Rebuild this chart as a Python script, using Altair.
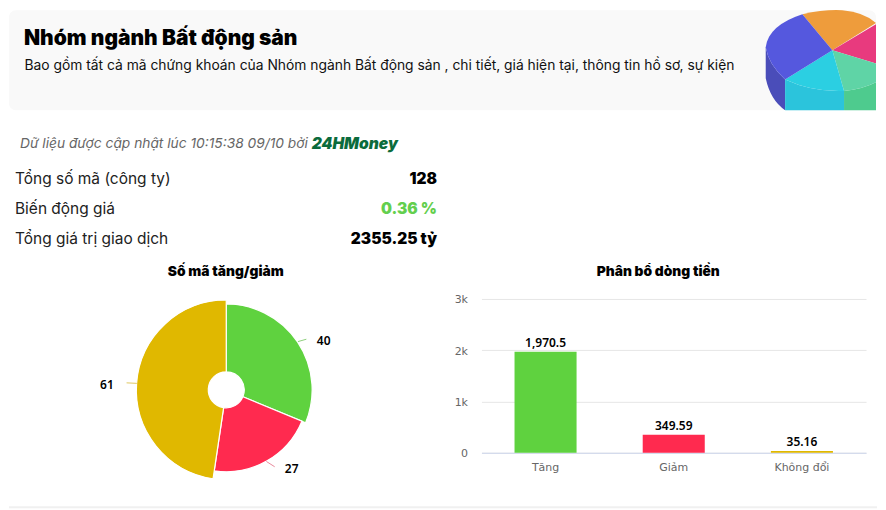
import altair as alt
import pandas as pd

page_title = "Nhóm ngành Bất động sản"
page_sub = "Bao gồm tất cả mã chứng khoán của Nhóm ngành Bất động sản , chi tiết, giá hiện tại, thông tin hồ sơ, sự kiện"
updated = "Dữ liệu được cập nhật lúc 10:15:38 09/10 bởi"
brand = "24HMoney"
stat_names = ["Tổng số mã (công ty)", "Biến động giá", "Tổng giá trị giao dịch"]
stat_values = ["128", "0.36 %", "2355.25 tỷ"]

categories = ["Tăng", "Giảm", "Không đổi"]
count_values = [40, 27, 61]
flow_values = [1970.5, 349.59, 35.16]
flow_labels = ["1,970.5", "349.59", "35.16"]
colors = ["#5fd23f", "#ff2a4f", "#e0b800"]

FONT = "Inter"
CH = "DejaVu Sans"
LBL = "Noto Sans"


def txt(s, x, y, size=13, weight=400, color="#000", align="left", style="normal", font=FONT):
    return alt.Chart(pd.DataFrame({"t": [s]})).mark_text(
        align=align, baseline="middle", fontSize=size, fontWeight=weight,
        color=color, font=font, fontStyle=style
    ).encode(text="t:N", x=alt.value(x), y=alt.value(y))


def seg(x1, y1, x2, y2, color, w=1):
    return alt.Chart(pd.DataFrame({"a": [0]})).mark_rule(color=color, strokeWidth=w).encode(
        x=alt.value(x1), x2=alt.value(x2), y=alt.value(y1), y2=alt.value(y2))


def icon(path, color):
    # custom symbol path in pixels, centred on the small pie's hub
    return alt.Chart(pd.DataFrame({"a": [0]})).mark_point(
        shape=path, size=4, filled=True, fill=color, opacity=1, strokeWidth=0
    ).encode(x=alt.value(833.3 - 8), y=alt.value(50 - 8))


panel = alt.Chart(pd.DataFrame({"a": [0]})).mark_rect(
    fill="#f9f9f9", cornerRadius=7
).encode(x=alt.value(1), x2=alt.value(869), y=alt.value(2), y2=alt.value(102))

icons = [
    icon("M-66.7,-3 L-66.7,28 Q-62,50 -47.3,60 L-47.3,29.3 Q-64,14 -66.7,-3 Z", "#4a4db9"),
    icon("M-47.3,29.3 Q-20,42 11.7,40.7 L11.7,60 L-47.3,60 Z", "#2bc4dc"),
    icon("M11.7,40.7 Q30,39 43.7,32 L43.7,60 L11.7,60 Z", "#4ecb8e"),
    icon("M0,0 L-30,-36 Q-8,-41 10,-40 Q32,-38 43.7,-27.3 Z", "#ee9c3c"),
    icon("M0,0 L43.7,-26 L43.7,13.3 Z", "#e83a7e"),
    icon("M0,0 L43.7,13.3 L43.7,32 Q30,39 11.7,40.7 Z", "#5fd4a6"),
    icon("M0,0 L11.7,40.7 Q-20,42 -47.3,29.3 Z", "#2bcfe2"),
    icon("M0,0 L-47.3,29.3 Q-64,14 -66.7,-3 Q-64,-25 -30,-36 Z", "#5558de"),
]

header = alt.layer(
    panel, *icons,
    txt(page_title, 16, 31, 21, 900),
    txt(page_sub, 16.5, 57.5, 13.85, 400, "#111"),
    txt(updated, 12, 136, 13.8, 400, "#666", style="italic"),
    txt(brand, 304, 135.5, 15.6, 900, "#0b6b3c", style="italic"),
    txt(stat_names[0], 7, 170.5, 15.5, 400, "#222"),
    txt(stat_names[1], 7, 200.5, 15.5, 400, "#222"),
    txt(stat_names[2], 7, 230.5, 15.5, 400, "#222"),
    txt(stat_values[0], 429.5, 170.5, 15.5, 900, "#000", "right"),
    txt(stat_values[1], 429.5, 200.5, 15.5, 900, "#63cf4e", "right"),
    txt(stat_values[2], 429.5, 230.5, 15.5, 900, "#000", "right"),
).properties(width=870, height=252)

# bottom panels: local origin is the top of the bar plot (reference y 299)
ox, oy = 8, 299
df = pd.DataFrame({
    "category": categories, "count": count_values, "flow": flow_values,
    "label": flow_labels, "idx": [0, 1, 2],
})
color_scale = alt.Scale(domain=categories, range=colors)

arcs = alt.Chart(df).mark_arc(stroke="#ffffff", strokeWidth=1.2).encode(
    theta=alt.Theta("count:Q", stack=True),
    order=alt.Order("idx:Q"),
    radius=alt.Radius("count:Q", scale=alt.Scale(type="linear", zero=False, domain=[27, 40, 61], range=[82, 86, 90])),
    radius2=alt.value(18),
    color=alt.Color("category:N", scale=color_scale, legend=None),
    x=alt.value(226.5 - ox), y=alt.value(390 - oy),
)

pie = alt.layer(
    arcs,
    seg(298.3 - ox, 341.7 - oy, 306.7 - ox, 339.3 - oy, "#8fcf7d"),
    seg(266.7 - ox, 461.7 - oy, 275 - ox, 467 - oy, "#e88a9c"),
    seg(126.7 - ox, 383 - oy, 137 - ox, 383.5 - oy, "#e0c860"),
    txt(str(count_values[0]), 324 - ox, 341 - oy, 12, 600, "#000", "center", font=LBL),
    txt(str(count_values[1]), 292 - ox, 469 - oy, 12, 600, "#000", "center", font=LBL),
    txt(str(count_values[2]), 107 - ox, 385 - oy, 12, 600, "#000", "center", font=LBL),
    txt("Số mã tăng/giảm", 226 - ox, 272.5 - oy, 13.8, 900, "#000", "center"),
    seg(1, 507.5 - oy, 870, 507.5 - oy, "#f0f0f0", 2),
).properties(width=434, height=154)

x_enc = alt.X("category:N", sort=categories, title=None,
              scale=alt.Scale(paddingInner=0.516, paddingOuter=0.258),
              axis=alt.Axis(labelAngle=0, labelColor="#666666", labelFontSize=11, labelFont=CH,
                            domainColor="#ccd6eb", ticks=False, grid=False, labelPadding=9))
y_enc = alt.Y("flow:Q", title=None, scale=alt.Scale(domain=[0, 3000]),
              axis=alt.Axis(values=[0, 1000, 2000, 3000], domain=False, ticks=False,
                            gridColor="#e6e6e6", labelColor="#666666", labelFontSize=11, labelFont=CH,
                            labelPadding=14, labelOffset=1,
                            labelExpr="datum.value == 0 ? '0' : datum.value / 1000 + 'k'"))

bars = alt.Chart(df).mark_bar().encode(
    x=x_enc, y=y_enc, color=alt.Color("category:N", scale=color_scale, legend=None))
bar_text = alt.Chart(df).mark_text(
    dy=-9, fontSize=12, fontWeight=600, font=LBL, color="#000"
).encode(x=alt.X("category:N", sort=categories), y="flow:Q", text="label:N")

bar = alt.layer(
    bars, bar_text,
    txt("Phân bổ dòng tiền", 659 - 482, 272.5 - oy, 13.8, 900, "#000", "center"),
).properties(width=385, height=154)

row = alt.hconcat(pie, bar, spacing=40, bounds="flush")
chart = alt.vconcat(header, row, spacing=39, bounds="flush").properties(
    padding=0, background="#ffffff"
).configure_view(stroke=None)

chart.save("out.html", embed_options={"renderer": "svg", "actions": False})
